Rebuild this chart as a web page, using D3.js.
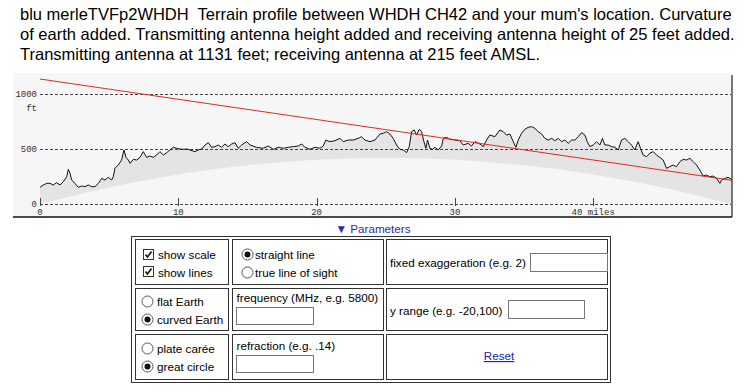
<!DOCTYPE html>
<html>
<head>
<meta charset="utf-8">
<script src="https://cdn.jsdelivr.net/npm/d3@7"></script>
<style>
  body { margin: 0; background: #fff; }
  svg { display: block; }
</style>
</head>
<body>
<div id="page"></div>
<script>
// header text, one entry per printed line
const headerLines = [
  "blu merleTVFp2WHDH  Terrain profile between WHDH CH42 and your mum's location. Curvature",
  "of earth added. Transmitting antenna height added and receiving antenna height of 25 feet added.",
  "Transmitting antenna at 1131 feet; receiving antenna at 215 feet AMSL."
];

// terrain profile (miles, feet as drawn incl. curvature)
const dist = [0, 0.24, 0.48, 0.72, 0.96, 1.2, 1.45, 1.69, 1.93, 2.05, 2.17, 2.29, 2.53, 2.77, 3.01, 3.25, 3.49, 3.73, 3.98,
  4.22, 4.46, 4.7, 4.94, 5.18, 5.3, 5.42, 5.66, 5.9, 6.07, 6.22, 6.39, 6.51, 6.75, 6.99, 7.23, 7.47, 7.71, 7.95, 8.19, 8.43,
  8.67, 8.92, 9.16, 9.4, 9.64, 9.88, 10.12, 10.36, 10.6, 10.84, 11.2, 11.45, 11.69, 11.93, 12.17, 12.41, 12.65, 12.89, 13.13,
  13.37, 13.61, 13.86, 14.1, 14.34, 14.58, 14.94, 15.18, 15.66, 16.14, 16.5, 16.87, 17.23, 17.59, 17.95, 18.31, 18.67, 18.92,
  19.16, 19.52, 19.88, 20.24, 20.48, 20.67, 20.96, 21.33, 21.69, 21.93, 22.29, 22.65, 23.01, 23.25, 23.49, 23.86, 24.22,
  24.58, 24.82, 25.06, 25.3, 25.54, 25.78, 26.02, 26.27, 26.51, 26.7, 26.87, 27.06, 27.23, 27.42, 27.59, 27.76, 27.9, 28.02,
  28.19, 28.39, 28.55, 28.8, 29.04, 29.16, 29.4, 29.64, 30, 30.36, 30.6, 30.96, 31.2, 31.45, 31.81, 32.05, 32.29, 32.53,
  32.89, 33.25, 33.49, 33.73, 33.98, 34.22, 34.41, 34.58, 34.82, 35.06, 35.3, 35.54, 35.78, 36.02, 36.27, 36.51, 36.75,
  36.99, 37.23, 37.47, 37.71, 37.95, 38.19, 38.43, 38.67, 38.92, 39.16, 39.4, 39.57, 39.76, 40, 40.24, 40.48, 40.67, 40.84,
  41.08, 41.33, 41.57, 41.81, 42.05, 42.29, 42.53, 42.77, 43.01, 43.25, 43.42, 43.61, 43.86, 44.1, 44.34, 44.58, 44.82,
  45.06, 45.3, 45.54, 45.78, 46.02, 46.27, 46.51, 46.75, 46.99, 47.23, 47.47, 47.71, 47.95, 48.19, 48.43, 48.67, 48.92,
  49.16, 49.28, 49.52, 49.76, 50];
const elev = [151, 172, 187, 187, 172, 193, 172, 202, 247, 314, 278, 217, 187, 151, 163, 157, 172, 157, 157,
  187, 232, 217, 241, 217, 247, 323, 353, 398, 489, 422, 398, 368, 404, 398, 422, 474, 422, 434, 422, 443,
  474, 443, 465, 489, 513, 504, 498, 495, 498, 489, 474, 489, 498, 534, 555, 513, 519, 534, 513,
  543, 519, 543, 555, 504, 534, 564, 534, 513, 504, 525, 495, 513, 504, 513, 519, 525, 543,
  513, 495, 513, 504, 525, 579, 564, 573, 594, 564, 579, 579, 594, 609, 579, 564, 579,
  633, 640, 655, 633, 594, 534, 495, 489, 465, 519, 655, 670, 624, 676, 655, 564, 504, 579,
  504, 495, 513, 489, 525, 594, 603, 585, 579, 573, 534, 549, 525, 564, 543, 519, 579, 624,
  609, 670, 655, 624, 633, 564, 513, 579, 640, 676, 694, 700, 685, 655, 633, 594, 579,
  594, 573, 594, 564, 579, 549, 579, 579, 609, 646, 624, 564, 519, 534, 564, 534, 594, 534,
  534, 519, 513, 489, 579, 594, 564, 534, 489, 564, 504, 443, 428, 459, 474, 443, 422,
  398, 323, 338, 353, 338, 383, 404, 398, 413, 383, 353, 308, 253, 262, 247, 253, 232,
  187, 217, 232, 241, 223];

const bulgeMiles = [0, 5, 10, 15, 20, 25, 30, 35, 40, 45, 50];
const bulgeFt = [0, 150, 267, 350, 400, 417, 400, 350, 267, 150, 0];

// straight line between antennas
const sightMiles = [0, 50];
const sightFt = [1131, 215];

const xTicks = [0, 10, 20, 30, 40];
const xTickLabels = ["0", "10", "20", "30", "40 miles"];
const yTicks = [0, 500, 1000];

const W = 748, H = 392;
const svg = d3.select("#page").append("svg")
  .attr("width", W)
  .attr("height", H);

// header
svg.append("g").selectAll("text")
  .data(headerLines)
  .join("text")
  .attr("x", 20)
  .attr("y", (d, i) => 20 + i * 20)
  .attr("font-family", "Arial, 'Liberation Sans', sans-serif")
  .attr("font-size", 16.5)
  .attr("fill", "#000")
  .style("white-space", "pre")
  .text(d => d);

// profile panel
const panel = { left: 13, top: 73, right: 732, bottom: 217 };
const x = d3.scaleLinear().domain([0, 50]).range([40, 731.5]);
const y = d3.scaleLinear().domain([0, 1000]).range([204, 93.5]);

svg.append("rect")
  .attr("x", panel.left)
  .attr("y", panel.top)
  .attr("width", panel.right - panel.left)
  .attr("height", panel.bottom - panel.top)
  .attr("fill", "#f6f6f6");

const terrain = dist.map((d, i) => [d, elev[i]]);
const bulge = bulgeMiles.map((d, i) => [d, bulgeFt[i]]);

// terrain fill down to sea level, then cut the bulge out
svg.append("path")
  .datum(terrain)
  .attr("d", d3.area().x(d => x(d[0])).y0(y(0)).y1(d => y(d[1])))
  .attr("fill", "#e4e4e4");

svg.append("path")
  .datum(bulge)
  .attr("d", d3.area().curve(d3.curveMonotoneX).x(d => x(d[0])).y0(y(0) + 1).y1(d => y(d[1])))
  .attr("fill", "#f6f6f6");

// dashed grid
svg.append("g").selectAll("line")
  .data(yTicks)
  .join("line")
  .attr("x1", x(0))
  .attr("x2", panel.right - 1)
  .attr("y1", d => Math.round(y(d)) + 0.5)
  .attr("y2", d => Math.round(y(d)) + 0.5)
  .attr("stroke", "#444")
  .attr("stroke-width", 1)
  .attr("stroke-dasharray", "3,2");

const monoFont = "'Liberation Mono', 'Courier New', monospace";

// y labels
svg.append("g").selectAll("text")
  .data(yTicks)
  .join("text")
  .attr("x", 37)
  .attr("y", d => y(d) + 3)
  .attr("text-anchor", "end")
  .attr("font-family", monoFont)
  .attr("font-size", 9)
  .attr("fill", "#333")
  .text(d => d);

svg.append("text")
  .attr("x", 37)
  .attr("y", y(1000) + 17)
  .attr("text-anchor", "end")
  .attr("font-family", monoFont)
  .attr("font-size", 9)
  .attr("fill", "#333")
  .text("ft");

// x ticks and labels
svg.append("g").selectAll("line")
  .data(xTicks)
  .join("line")
  .attr("x1", d => Math.round(x(d)) + 0.5)
  .attr("x2", d => Math.round(x(d)) + 0.5)
  .attr("y1", y(0) - 6)
  .attr("y2", y(0) + 2)
  .attr("stroke", "#444");

svg.append("g").selectAll("text")
  .data(xTicks)
  .join("text")
  .attr("x", d => x(d))
  .attr("y", y(0) + 11)
  .attr("text-anchor", "middle")
  .attr("font-family", monoFont)
  .attr("font-size", 9)
  .attr("fill", "#333")
  .text((d, i) => xTickLabels[i]);

// terrain line
svg.append("path")
  .datum(terrain)
  .attr("d", d3.line().x(d => x(d[0])).y(d => y(d[1])))
  .attr("fill", "none")
  .attr("stroke", "#111")
  .attr("stroke-width", 1);

// line of sight
svg.append("path")
  .datum(sightMiles.map((d, i) => [d, sightFt[i]]))
  .attr("d", d3.line().x(d => x(d[0])).y(d => y(d[1])))
  .attr("fill", "none")
  .attr("stroke", "#e02828")
  .attr("stroke-width", 1);

// panel edges (right and bottom only)
svg.append("line")
  .attr("x1", panel.right).attr("x2", panel.right)
  .attr("y1", panel.top + 2).attr("y2", panel.bottom)
  .attr("stroke", "#222").attr("stroke-width", 1.2);
svg.append("line")
  .attr("x1", panel.left).attr("x2", panel.right)
  .attr("y1", panel.bottom).attr("y2", panel.bottom)
  .attr("stroke", "#111").attr("stroke-width", 1.5);

// ---- parameters form ----
const uiFont = "Arial, 'Liberation Sans', sans-serif";
const uiSize = 11.7;

svg.append("text")
  .attr("x", 373)
  .attr("y", 233)
  .attr("text-anchor", "middle")
  .attr("font-family", uiFont)
  .attr("font-size", uiSize)
  .attr("fill", "#2b2bb0")
  .text("\u25BC Parameters");

const colX = [[135, 229], [232, 384], [386, 608]];
const rowY = [[239, 285], [288, 331], [334, 380]];

svg.append("rect")
  .attr("x", 131.5).attr("y", 236.5)
  .attr("width", 479).attr("height", 146)
  .attr("fill", "none").attr("stroke", "#333");

const cells = [];
rowY.forEach(r => colX.forEach(c => cells.push({ x0: c[0], x1: c[1], y0: r[0], y1: r[1] })));
svg.append("g").selectAll("rect")
  .data(cells)
  .join("rect")
  .attr("x", d => d.x0 + 0.5)
  .attr("y", d => d.y0 + 0.5)
  .attr("width", d => d.x1 - d.x0 - 1)
  .attr("height", d => d.y1 - d.y0 - 1)
  .attr("fill", "none")
  .attr("stroke", "#333");

function label(tx, ty, s, opts = {}) {
  return svg.append("text")
    .attr("x", tx).attr("y", ty)
    .attr("font-family", uiFont)
    .attr("font-size", uiSize)
    .attr("fill", opts.fill || "#000")
    .attr("text-anchor", opts.anchor || "start")
    .attr("text-decoration", opts.underline ? "underline" : null)
    .text(s);
}

function checkbox(bx, by, checked) {
  svg.append("rect")
    .attr("x", bx + 0.5).attr("y", by + 0.5)
    .attr("width", 10).attr("height", 10)
    .attr("fill", "#fff").attr("stroke", "#333");
  if (checked) {
    svg.append("path")
      .attr("d", `M${bx + 2.5},${by + 5.5} L${bx + 4.5},${by + 8} L${bx + 8.5},${by + 2.5}`)
      .attr("fill", "none").attr("stroke", "#111").attr("stroke-width", 1.6);
  }
}

function radio(cx, cy, on) {
  svg.append("circle")
    .attr("cx", cx).attr("cy", cy).attr("r", 5.5)
    .attr("fill", "#fff").attr("stroke", "#555");
  if (on) {
    svg.append("circle").attr("cx", cx).attr("cy", cy).attr("r", 3).attr("fill", "#111");
  }
}

function inputBox(x0, y0, x1, y1) {
  svg.append("rect")
    .attr("x", x0 + 0.5).attr("y", y0 + 0.5)
    .attr("width", x1 - x0 - 1).attr("height", y1 - y0 - 1)
    .attr("fill", "#fff").attr("stroke", "#777");
}

// row 1
checkbox(143, 249, true);
label(158, 259, "show scale");
checkbox(143, 266, true);
label(158, 276.5, "show lines");
radio(247.5, 254.5, true);
label(255, 259, "straight line");
radio(247.5, 272.5, false);
label(255, 277, "true line of sight");
label(390, 267, "fixed exaggeration (e.g. 2)");
inputBox(530, 253, 608, 272);

// row 2
radio(147.5, 301.5, false);
label(157, 306, "flat Earth");
radio(147.5, 319.5, true);
label(157, 324, "curved Earth");
label(236.5, 302, "frequency (MHz, e.g. 5800)");
inputBox(236, 307, 314, 325);
label(390, 315, "y range (e.g. -20,100)");
inputBox(508, 300, 585, 319);

// row 3
radio(147.5, 348.5, false);
label(157, 353, "plate car\u00e9e");
radio(147.5, 366.5, true);
label(157, 371, "great circle");
label(236.5, 350, "refraction (e.g. .14)");
inputBox(236, 355, 314, 373);
label(499, 360, "Reset", { anchor: "middle", underline: true, fill: "#2222aa" });
</script>
</body>
</html>
